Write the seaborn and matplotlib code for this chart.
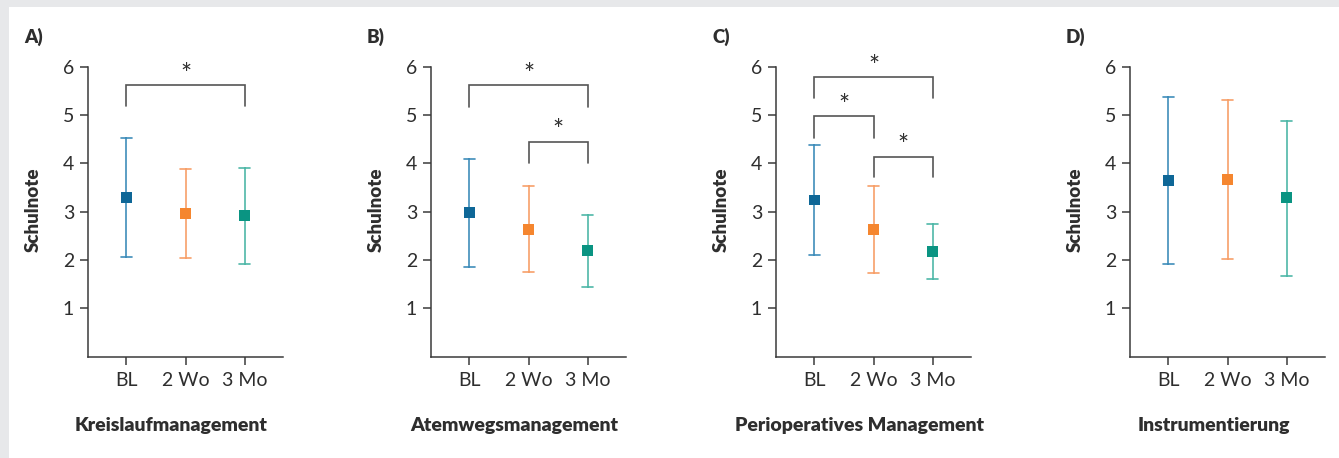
import matplotlib
matplotlib.use("Agg")
import matplotlib.pyplot as plt
import seaborn as sns
import pandas as pd
from matplotlib.patches import Rectangle

# ---------------- data ----------------
timepoints = ["BL", "2 Wo", "3 Mo"]
panel_titles = ["Kreislaufmanagement", "Atemwegsmanagement",
                "Perioperatives Management", "Instrumentierung"]
panel_letters = ["A)", "B)", "C)", "D)"]

means_A = [3.29, 2.97, 2.91]
lower_A = [2.06, 2.03, 1.92]
upper_A = [4.53, 3.89, 3.91]

means_B = [2.98, 2.62, 2.19]
lower_B = [1.86, 1.75, 1.43]
upper_B = [4.08, 3.52, 2.94]

means_C = [3.24, 2.62, 2.17]
lower_C = [2.10, 1.74, 1.61]
upper_C = [4.37, 3.52, 2.75]

means_D = [3.64, 3.66, 3.29]
lower_D = [1.92, 2.01, 1.67]
upper_D = [5.37, 5.31, 4.88]

# significance brackets: (from index, to index, bar level, leg end, star level)
sig_A = [(0, 2, 5.62, 5.18, 5.97)]
sig_B = [(0, 2, 5.62, 5.17, 5.97), (1, 2, 4.44, 4.00, 4.80)]
sig_C = [(0, 2, 5.78, 5.35, 6.13), (0, 1, 4.97, 4.53, 5.33), (1, 2, 4.14, 3.71, 4.50)]
sig_D = []

y_ticks = [1, 2, 3, 4, 5, 6]
y_label = "Schulnote"

panels = [
    (means_A, lower_A, upper_A, sig_A),
    (means_B, lower_B, upper_B, sig_B),
    (means_C, lower_C, upper_C, sig_C),
    (means_D, lower_D, upper_D, sig_D),
]

# ---------------- style ----------------
sns.set_style("ticks")
plt.rcParams["font.family"] = ["Lato", "DejaVu Sans"]

marker_colors = ["#0e6797", "#f5862f", "#0a9482"]
line_colors = ["#3f8dba", "#f7a069", "#4fb8a8"]
txt = "#2e2e2e"
axc = "#3a3a3a"
brc = "#555555"

W, H = 1339, 458
fig = plt.figure(figsize=(W / 100, H / 100), dpi=100)
fig.patch.set_facecolor("#e7e8ea")
fig.add_artist(Rectangle((9 / W, 0), 1, (H - 7) / H, transform=fig.transFigure,
                         facecolor="white", edgecolor="none", zorder=-10))

ax_lefts = [88, 431, 776, 1130]
ax_w = 195
ax_bottom = H - 356.6
ax_h = 290

for i, (m, lo, up, sig) in enumerate(panels):
    ax = fig.add_axes([ax_lefts[i] / W, ax_bottom / H, ax_w / W, ax_h / H])
    ax.set_facecolor("none")
    df = pd.DataFrame({
        "tp": timepoints * 3,
        "val": list(lo) + list(m) + list(up),
    })
    # error bars (min..max of lower/mean/upper)
    sns.pointplot(data=df, x="tp", y="val", hue="tp", order=timepoints,
                  hue_order=timepoints, palette=line_colors, estimator="median",
                  errorbar=("pi", 100), linestyle="none", markers="s",
                  markersize=0, capsize=0.19, err_kws={"linewidth": 1.2},
                  legend=False, ax=ax)
    # markers
    dfm = pd.DataFrame({"tp": timepoints, "val": m})
    sns.scatterplot(data=dfm, x="tp", y="val", hue="tp", palette=marker_colors,
                    hue_order=timepoints, marker="s", s=62, linewidth=0,
                    legend=False, ax=ax, zorder=5)

    ax.set_xlim(-0.65, 2.65)
    ax.set_ylim(0, 6)
    ax.set_yticks(y_ticks)
    ax.set_xlabel("")
    ax.set_ylabel("")
    for s in ["top", "right"]:
        ax.spines[s].set_visible(False)
    for s in ["left", "bottom"]:
        ax.spines[s].set_color(axc)
        ax.spines[s].set_linewidth(1.1)
    ax.tick_params(axis="both", colors=axc, width=1.1, length=6,
                   labelsize=14, labelcolor=txt)
    ax.tick_params(axis="y", pad=4)
    ax.tick_params(axis="x", pad=5)

    for (a, b, yb, yl, ys) in sig:
        ax.plot([a, a, b, b], [yl, yb, yb, yl], color=brc, lw=1.2,
                clip_on=False, solid_joinstyle="miter")
        ax.text((a + b) / 2, ys - 0.15, "*", ha="center", va="center", fontsize=19,
                color=txt, clip_on=False)

    # y label
    fig.text((ax_lefts[i] - 55) / W, (H - 210) / H, y_label, rotation=90,
             ha="center", va="center", fontsize=13.5, fontweight="heavy", color=txt)
    # panel title (bottom)
    fig.text((ax_lefts[i] + ax_w / 2 - 14) / W, (H - 425) / H, panel_titles[i],
             ha="center", va="center", fontsize=14, fontweight="heavy", color=txt)
    # panel letter
    fig.text((ax_lefts[i] - 64) / W, (H - 37) / H, panel_letters[i],
             ha="left", va="center", fontsize=13.5, fontweight="heavy", color=txt)

fig.savefig("out.png", dpi=100)
